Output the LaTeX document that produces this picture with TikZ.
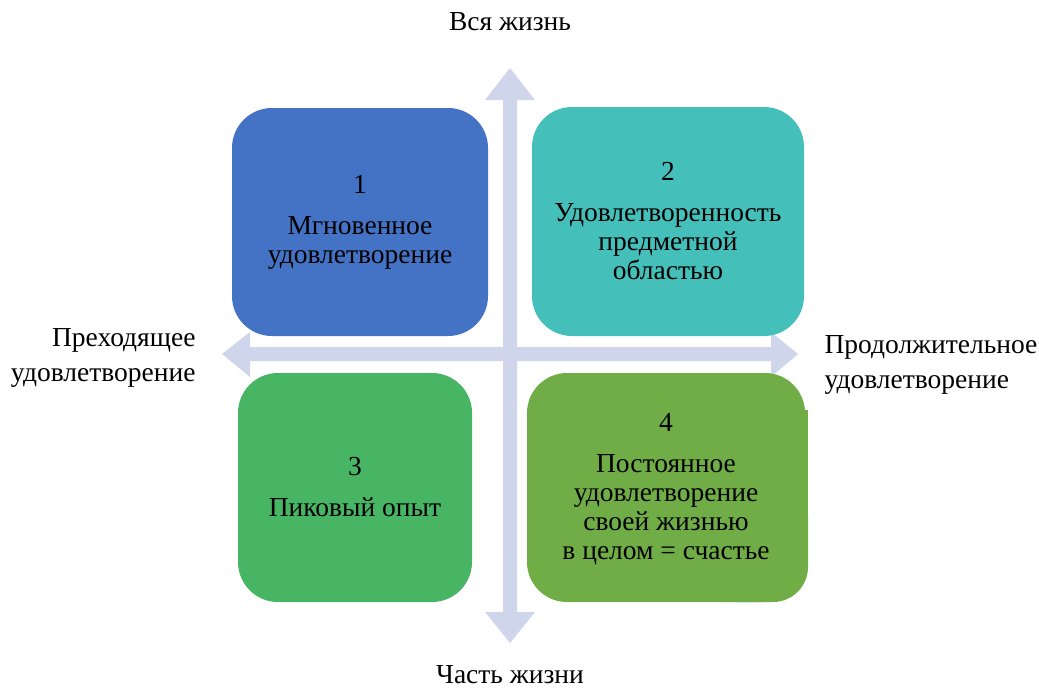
\documentclass[tikz,border=0pt]{standalone}
\usepackage{fontspec}
\setmainfont{Liberation Serif}
\definecolor{arrowc}{HTML}{CFD5EA}
\definecolor{boxa}{HTML}{4472C4}
\definecolor{boxb}{HTML}{44BFB9}
\definecolor{boxc}{HTML}{47B563}
\definecolor{boxd}{HTML}{70AD47}
\tikzset{
  quad/.style={rounded corners=40pt, inner sep=0pt, draw=none},
  qtext/.style={align=center, font=\fontsize{27.5}{29}\selectfont, text=black},
  side/.style={font=\fontsize{27.5}{35}\selectfont, text=black},
}
\begin{document}
\begin{tikzpicture}[x=1pt,y=-1pt]
\useasboundingbox (0,0) rectangle (1039,688);
% arrows (behind)
\fill[arrowc] (503,100) -- (485,100) -- (510,68) -- (535,100) -- (517,100)
  -- (517,612) -- (535,612) -- (510,643) -- (485,612) -- (503,612) -- cycle;
\fill[arrowc] (250,347) -- (250,332) -- (222,354) -- (250,377) -- (250,361)
  -- (771,361) -- (771,377) -- (798,354) -- (771,332) -- (771,347) -- cycle;
% boxes
\node[quad, fill=boxa, minimum width=256pt, minimum height=228pt] (b1) at (360,222) {};
\node[quad, fill=boxb, minimum width=272pt, minimum height=229pt] (b2) at (668,221.5) {};
\node[quad, fill=boxc, minimum width=234pt, minimum height=229pt] (b3) at (355,487.5) {};
\node[quad, fill=boxd, minimum width=278pt, minimum height=229pt] (b4) at (666,487.5) {};
\fill[boxd] (700,410) rectangle (808,560);
\fill[boxd, rounded corners=35pt] (700,480) rectangle (808,602);
% texts
\node[qtext] (t1) at (b1.center) {1\\[12pt]Мгновенное\\удовлетворение};
\node[qtext] (t2) at (b2.center) {2\\[12pt]Удовлетворенность\\предметной\\областью};
\node[qtext] (t3) at (b3.center) {3\\[12pt]Пиковый опыт};
\node[qtext] (t4) at ([yshift=-2pt]b4.center) {4\\[12pt]Постоянное\\удовлетворение\\своей жизнью\\в целом = счастье};
\node[side] (top) at (510,22) {Вся жизнь};
\node[side] (bot) at (510,675) {Часть жизни};
\node[side, align=right, anchor=east] (left) at (199,357.5) {Преходящее\\удовлетворение};
\node[side, align=left, anchor=west] (right) at (821,364.5) {Продолжительное\\удовлетворение};
\end{tikzpicture}
\end{document}
